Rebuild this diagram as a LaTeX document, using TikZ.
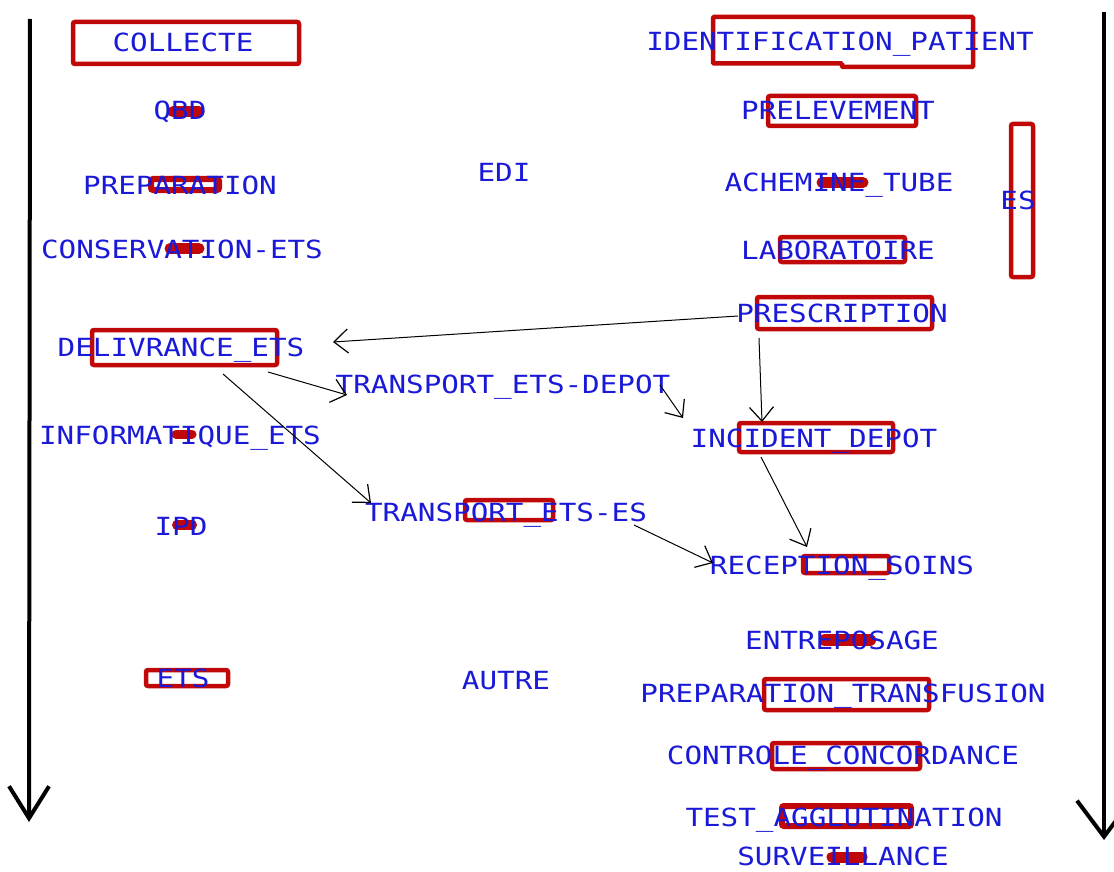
\documentclass[tikz,border=0pt]{standalone}
\usepackage{fontspec}
\newfontfamily\lblfont[FakeStretch=1.17]{DejaVu Sans Mono}
\usetikzlibrary{arrows.meta,calc}
\definecolor{txtblue}{RGB}{25,25,215}
\definecolor{hlred}{RGB}{192,8,8}
\tikzset{
  lbl/.style={font=\lblfont\fontsize{25}{25}\selectfont, text=txtblue, inner sep=0pt, text height=18pt, text depth=0pt, anchor=center},
  hlbox/.style={draw=hlred, line width=4.5pt, rounded corners=2pt},
  hlpill/.style={draw=hlred, line width=11pt, line cap=round},
  conn/.style={draw=black, line width=1pt, -{Straight Barb[length=14pt,width=24pt,line width=1.2pt]}},
  axis/.style={draw=black, line width=4pt},
}
\begin{document}
\begin{tikzpicture}[x=1pt,y=-1pt]
\useasboundingbox[fill=white] (0,0) rectangle (1114,872);
% big vertical arrows
\coordinate (lt) at (30,19);
\coordinate (lb) at (29,822);
\coordinate (rt) at (1104,12);
\coordinate (rb) at (1104,840);
\draw[axis, -{Straight Barb[length=32pt,width=40pt,line width=4pt]}] (lt) -- (lb);
\draw[axis, -{Straight Barb[length=36pt,width=54pt,line width=4pt]}] (rt) -- (rb);
% red highlights (under the text)
\draw[hlbox] (73,22) rectangle (299,64);
\draw[hlpill] (173,112) -- (199,112);
\draw[hlbox, line width=6pt] (151,179) rectangle (219,190);
\draw[hlpill] (170,248.5) -- (199,248.5);
\draw[hlbox] (92,330) rectangle (277,365);
\draw[hlpill, line width=9pt] (176,434) -- (192,434);
\draw[hlpill, line width=10pt] (177,525) -- (192,525);
\draw[hlbox] (146,670) rectangle (228,686);
\draw[hlbox] (465,500) rectangle (553,520);
\draw[hlbox, rounded corners=1pt] (713,17) -- (973,17) -- (973,67) -- (842,67) -- (842,63.5) -- (713,63.5) -- cycle;
\draw[hlbox] (768,96) rectangle (916,126);
\draw[hlpill] (822,182.5) -- (863,182.5);
\draw[hlbox] (780,237) rectangle (905,262);
\draw[hlbox] (1011,124) rectangle (1033,277);
\draw[hlbox] (757,297) rectangle (932,329);
\draw[hlbox] (739,423) rectangle (893,452);
\draw[hlbox] (803,556) rectangle (889,573);
\draw[hlpill, line width=12pt] (825,640) -- (870,640);
\draw[hlbox] (764,679) rectangle (929,710);
\draw[hlbox] (772,743) rectangle (920,769);
\draw[hlbox, line width=6pt] (782,806) rectangle (911,826);
\draw[hlpill, line width=11pt] (832,857) -- (862,857);
% labels
\node[lbl] (collecte) at (183,43) {COLLECTE};
\node[lbl] (qbd) at (180,111) {QBD};
\node[lbl] (prep) at (180,185) {PREPARATION};
\node[lbl] (cons) at (182,249) {CONSERVATION-ETS};
\node[lbl] (deliv) at (181,347) {DELIVRANCE\_ETS};
\node[lbl] (info) at (180,435) {INFORMATIQUE\_ETS};
\node[lbl] (ipd) at (181,526) {IPD};
\node[lbl] (ets) at (183,678) {ETS};
\node[lbl] (edi) at (504,173) {EDI};
\node[lbl] (ted) at (503,384) {TRANSPORT\_ETS-DEPOT};
\node[lbl] (tes) at (506,512) {TRANSPORT\_ETS-ES};
\node[lbl] (autre) at (506,680) {AUTRE};
\node[lbl] (ident) at (840,42) {IDENTIFICATION\_PATIENT};
\node[lbl] (prel) at (838,111) {PRELEVEMENT};
\node[lbl] (ache) at (839,183) {ACHEMINE\_TUBE};
\node[lbl] (labo) at (838,250) {LABORATOIRE};
\node[lbl] (es) at (1018,200) {ES};
\node[lbl] (pres) at (842,313) {PRESCRIPTION};
\node[lbl] (inc) at (814,438) {INCIDENT\_DEPOT};
\node[lbl] (rec) at (842,565) {RECEPTION\_SOINS};
\node[lbl] (entr) at (842,640) {ENTREPOSAGE};
\node[lbl] (ptra) at (843,693) {PREPARATION\_TRANSFUSION};
\node[lbl] (ctrl) at (843,755) {CONTROLE\_CONCORDANCE};
\node[lbl] (test) at (844,817) {TEST\_AGGLUTINATION};
\node[lbl] (surv) at (843,856.5) {SURVEILLANCE};
% connectors
\draw[conn] ($(pres)+(-104,3)$) -- ($(deliv)+(152,-5)$);
\draw[conn] ($(deliv)+(87,25)$) -- ($(ted)+(-156,11)$);
\draw[conn] ($(deliv)+(42,27)$) -- ($(tes)+(-135,-9)$);
\draw[conn] ($(ted)+(157,1)$) -- ($(inc)+(-131,-20)$);
\draw[conn] ($(pres)+(-83,25)$) -- ($(inc)+(-52,-16)$);
\draw[conn] ($(inc)+(-53,19)$) -- ($(rec)+(-35,-18)$);
\draw[conn] ($(tes)+(128,13)$) -- ($(rec)+(-129,-2)$);
\end{tikzpicture}
\end{document}
